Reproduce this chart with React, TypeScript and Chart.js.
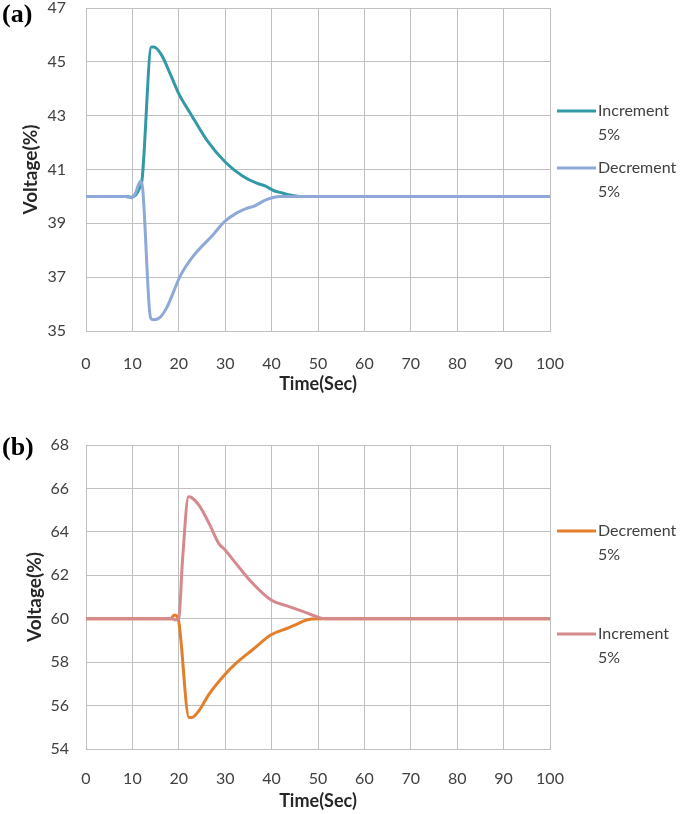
import React, { useEffect, useRef } from 'react';
import { Chart, registerables } from 'chart.js';

Chart.register(...registerables);

// ---------- data ----------
const xTicks = [0, 10, 20, 30, 40, 50, 60, 70, 80, 90, 100];
const yTicksA = [35, 37, 39, 41, 43, 45, 47];
const yTicksB = [54, 56, 58, 60, 62, 64, 66, 68];

// Panel (a)
const incATime = [0, 8.5, 9.7, 10.7, 11.5, 12.1, 14.1, 14.6, 16.3, 18.1, 20.1, 22.8, 26, 30.1, 33.9, 36.8, 38.6, 40.4, 42.5, 44, 46, 100];
const incAVolt = [40, 40, 39.97, 40.05, 40.3, 40.65, 45.55, 45.55, 45.25, 44.57, 43.78, 43.0, 42.1, 41.26, 40.74, 40.49, 40.39, 40.22, 40.12, 40.05, 40, 40];
const decATime = [0, 8.5, 9.8, 10.6, 11.7, 12.2, 13.9, 14.5, 15.9, 17.4, 20.3, 23.1, 27.4, 29.9, 32.5, 34.5, 36.1, 38.9, 41.8, 43.5, 100];
const decAVolt = [40, 40, 39.95, 40.1, 40.55, 40.3, 35.5, 35.42, 35.5, 35.87, 37.04, 37.78, 38.58, 39.07, 39.39, 39.55, 39.63, 39.88, 40.0, 40.0, 40];

// Panel (b)
const decBTime = [0, 18.3, 19, 19.8, 22.2, 22.8, 24.3, 26.5, 30, 32.3, 35.9, 39.9, 43.5, 45, 47.5, 50, 100];
const decBVolt = [60, 60, 60.17, 60.05, 55.45, 55.45, 55.75, 56.52, 57.44, 57.94, 58.57, 59.26, 59.57, 59.7, 59.94, 60, 60];
const incBTime = [0, 18.5, 19.3, 20.0, 20.8, 22.1, 22.6, 24.3, 26.5, 28.6, 30, 32.3, 35.9, 39.9, 43.5, 46.7, 49.6, 51.5, 100];
const incBVolt = [60, 60, 59.95, 60.0, 62.7, 65.62, 65.6, 65.24, 64.4, 63.47, 63.16, 62.55, 61.63, 60.86, 60.58, 60.34, 60.1, 60.0, 60];

const seriesNamesA = ['Increment', 'Decrement'];
const seriesNamesB = ['Decrement', 'Increment'];
const seriesSuffix = '5%';
const xTitle = 'Time(Sec)';
const yTitle = 'Voltage(%)';

const zip = (xs: number[], ys: number[]) => xs.map((x, i) => ({ x, y: ys[i] }));

const FONT = 'Lato, "Open Sans", sans-serif';
const TEXT = '#404040';
const GRID = '#bfbfbf';

const sideLegend = {
  id: 'sideLegend',
  afterDraw(chart: any, _args: any, opts: any) {
    const ctx = chart.ctx;
    chart.data.datasets.forEach((ds: any, i: number) => {
      const y = opts.ys[i];
      ctx.save();
      ctx.strokeStyle = ds.borderColor;
      ctx.lineWidth = 3;
      ctx.beginPath();
      ctx.moveTo(opts.x1, y);
      ctx.lineTo(opts.x2, y);
      ctx.stroke();
      ctx.fillStyle = TEXT;
      ctx.font = `16px ${FONT}`;
      ctx.textBaseline = 'middle';
      ctx.textAlign = 'left';
      ctx.fillText(ds.label, opts.tx, y);
      ctx.fillText(seriesSuffix, opts.tx, y + opts.lh);
      ctx.restore();
    });
  },
};

type PanelProps = {
  top: number;
  height: number;
  plotTop: number;
  plotBottom: number;
  yTicks: number[];
  datasets: any[];
  legendYs: number[];
  yTickPad: number;
  yTitlePad: number;
  xTickPad: number;
  xTitlePad: number;
};

function Panel(p: PanelProps) {
  const ref = useRef<HTMLCanvasElement | null>(null);
  useEffect(() => {
    if (!ref.current) return;
    const plotLeft = 86;
    const plotRight = 550;
    const chart = new Chart(ref.current, {
      type: 'line',
      data: { datasets: p.datasets },
      plugins: [sideLegend],
      options: {
        responsive: false,
        animation: false,
        events: [],
        layout: { padding: { left: 0, top: p.plotTop, right: 685 - plotRight, bottom: 0 } },
        elements: { point: { radius: 0 }, line: { borderWidth: 3, cubicInterpolationMode: 'monotone' } },
        plugins: {
          legend: { display: false },
          tooltip: { enabled: false },
          sideLegend: { ys: p.legendYs, x1: 557, x2: 596, tx: 598, lh: 24 },
        } as any,
        scales: {
          x: {
            type: 'linear',
            min: 0,
            max: 100,
            afterBuildTicks: (s: any) => { s.ticks = xTicks.map((v) => ({ value: v })); },
            afterFit: (s: any) => { s.height = p.height - p.plotBottom; },
            grid: { color: GRID, lineWidth: 1, drawTicks: true, tickLength: p.xTickPad, tickColor: 'rgba(0,0,0,0)' },
            border: { color: GRID, width: 1 },
            ticks: { color: TEXT, font: { family: FONT, size: 16, lineHeight: 1.2 }, padding: 0, maxRotation: 0 },
            title: { display: true, text: xTitle, color: '#262626', font: { family: FONT, size: 18, weight: 'bold', lineHeight: 1.2 }, padding: { top: 0, bottom: p.xTitlePad } },
          },
          y: {
            type: 'linear',
            min: p.yTicks[0],
            max: p.yTicks[p.yTicks.length - 1],
            afterBuildTicks: (s: any) => { s.ticks = p.yTicks.map((v) => ({ value: v })); },
            afterFit: (s: any) => { s.width = plotLeft; },
            grid: { color: GRID, lineWidth: 1, drawTicks: true, tickLength: p.yTickPad, tickColor: 'rgba(0,0,0,0)' },
            border: { color: GRID, width: 1 },
            ticks: { color: TEXT, font: { family: FONT, size: 16, lineHeight: 1 }, padding: 0 },
            title: { display: true, text: yTitle, color: '#262626', font: { family: FONT, size: 19, weight: 'bold', lineHeight: 1.2 }, padding: { top: p.yTitlePad, bottom: 0 } },
          },
        },
      } as any,
    });
    return () => chart.destroy();
  }, []);
  return (
    <canvas
      ref={ref}
      width={685}
      height={p.height}
      style={{ position: 'absolute', left: 0, top: p.top, width: 685, height: p.height }}
    />
  );
}

export default function App() {
  const dsA = [
    { label: seriesNamesA[0], data: zip(incATime, incAVolt), borderColor: '#3399a6', backgroundColor: '#3399a6', order: 1 },
    { label: seriesNamesA[1], data: zip(decATime, decAVolt), borderColor: '#8ea9d8', backgroundColor: '#8ea9d8', order: 0 },
  ];
  const dsB = [
    { label: seriesNamesB[0], data: zip(decBTime, decBVolt), borderColor: '#e37f2b', backgroundColor: '#e37f2b', order: 1 },
    { label: seriesNamesB[1], data: zip(incBTime, incBVolt), borderColor: '#d6898c', backgroundColor: '#d6898c', order: 0 },
  ];
  const labelStyle: React.CSSProperties = {
    position: 'absolute',
    left: 2,
    fontFamily: '"Liberation Serif", "DejaVu Serif", serif',
    fontWeight: 'bold',
    fontSize: 26,
    lineHeight: '30px',
    color: '#000',
  };
  return (
    <div style={{ position: 'absolute', left: 0, top: 0, width: 685, height: 814, background: '#fff', overflow: 'hidden' }}>
      <Panel
        top={0}
        height={400}
        plotTop={8}
        plotBottom={331}
        yTicks={yTicksA}
        datasets={dsA}
        legendYs={[111, 168]}
        yTickPad={20}
        yTitlePad={19}
        xTickPad={23}
        xTitlePad={5}
      />
      <Panel
        top={400}
        height={414}
        plotTop={45}
        plotBottom={349}
        yTicks={yTicksB}
        datasets={dsB}
        legendYs={[131, 234]}
        yTickPad={17}
        yTitlePad={23}
        xTickPad={20}
        xTitlePad={2}
      />
      <div style={{ ...labelStyle, top: -1 }}>(a)</div>
      <div style={{ ...labelStyle, top: 432 }}>(b)</div>
    </div>
  );
}
